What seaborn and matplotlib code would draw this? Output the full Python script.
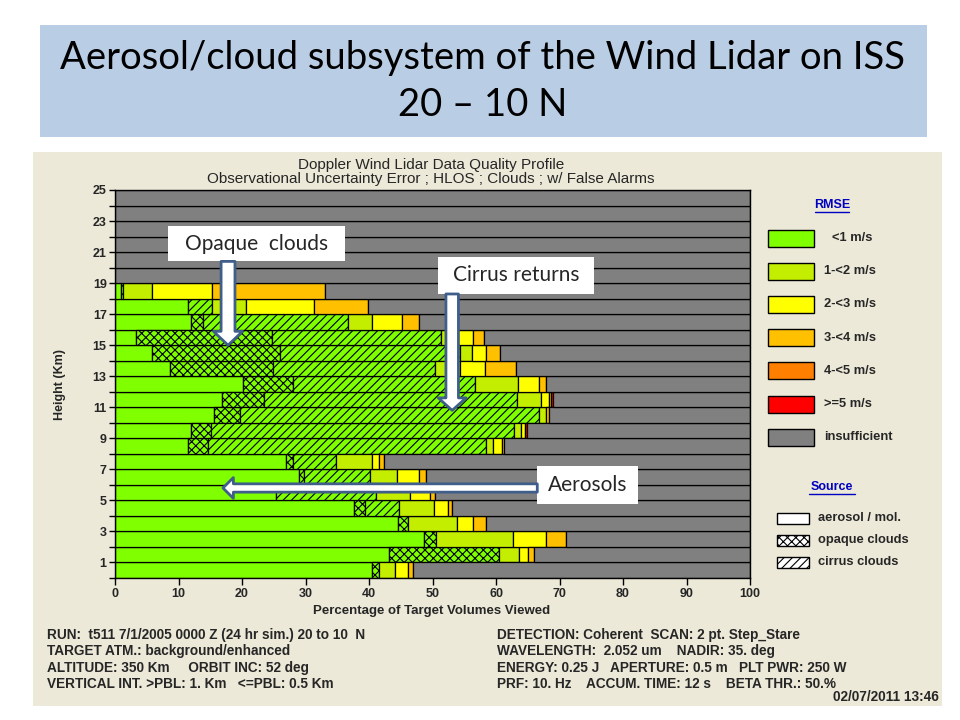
import numpy as np
import matplotlib.pyplot as plt
import seaborn as sns
from matplotlib.patches import Rectangle, FancyArrowPatch

sns.set_style("ticks")
plt.rcParams['font.family'] = ['Liberation Sans', 'DejaVu Sans']
plt.rcParams['hatch.linewidth'] = 0.8

# =========================
# Data (rows of 1 km, from 0-1 km up to 18-19 km), widths in %
# =========================
row_bottom = list(range(19))
green_aer = [40.4, 43.2, 48.6, 44.5, 37.7, 25.3, 28.9, 26.9, 11.5, 11.9,
             15.6, 16.9, 20.1, 8.6, 5.9, 3.3, 11.9, 11.5, 0.9]
green_opq = [1.1, 17.2, 1.9, 1.7, 1.7, 0.0, 0.9, 1.1, 3.1, 3.2,
             4.1, 6.6, 8.0, 16.3, 20.1, 21.4, 2.0, 0.0, 0.0]
green_cir = [0.0, 0.0, 0.0, 0.0, 5.3, 15.8, 10.3, 6.8, 43.8, 47.8,
             47.1, 39.8, 28.6, 25.5, 28.3, 26.7, 22.8, 3.7, 0.4]
rmse_1_2 = [2.6, 3.3, 12.1, 7.6, 5.6, 5.4, 4.3, 5.7, 1.1, 1.1,
            1.1, 3.8, 6.8, 3.9, 1.9, 2.4, 3.7, 5.5, 4.6]
rmse_2_3 = [2.0, 1.4, 5.2, 2.6, 2.1, 3.1, 3.4, 1.1, 1.4, 0.5,
            0.0, 1.3, 3.2, 3.9, 2.2, 2.5, 4.8, 10.7, 9.3]
rmse_3_4 = [0.9, 0.9, 3.2, 2.0, 0.7, 0.8, 1.1, 0.7, 0.4, 0.0,
            0.5, 0.3, 1.2, 4.9, 2.2, 1.8, 2.6, 8.5, 17.9]
rmse_4_5 = [0.0] * 19
rmse_5 = [0.0, 0.0, 0.0, 0.0, 0.0, 0.0, 0.0, 0.0, 0.0, 0.4,
          0.0, 0.3, 0.0, 0.0, 0.0, 0.0, 0.0, 0.0, 0.0]
all_rows = list(range(25))

rmse_labels = ["<1 m/s", "1-<2 m/s", "2-<3 m/s", "3-<4 m/s", "4-<5 m/s", ">=5 m/s", "insufficient"]
rmse_colors = ["#80FF00", "#C4EE00", "#FFFF00", "#FFC000", "#FF8000", "#FF0000", "#808080"]
source_labels = ["aerosol / mol.", "opaque clouds", "cirrus clouds"]
source_hatch = ["", "xxxx", "////"]

left_lines = ["RUN:  t511 7/1/2005 0000 Z (24 hr sim.) 20 to 10  N",
              "TARGET ATM.: background/enhanced",
              "ALTITUDE: 350 Km     ORBIT INC: 52 deg",
              "VERTICAL INT. >PBL: 1. Km   <=PBL: 0.5 Km"]
right_lines = ["DETECTION: Coherent  SCAN: 2 pt. Step_Stare",
               "WAVELENGTH:  2.052 um    NADIR: 35. deg",
               "ENERGY: 0.25 J   APERTURE: 0.5 m   PLT PWR: 250 W",
               "PRF: 10. Hz    ACCUM. TIME: 12 s    BETA THR.: 50.%"]

# =========================
# Figure and background
# =========================
fig = plt.figure(figsize=(9.6, 7.2), dpi=100)
bg = fig.add_axes([0, 0, 1, 1], zorder=-1)
bg.set_xlim(0, 960)
bg.set_ylim(720, 0)
bg.axis('off')
bg.add_patch(Rectangle((40, 25), 887, 112, fc="#B9CDE5", ec='none'))
bg.add_patch(Rectangle((33, 152), 909, 554, fc="#ECE9D8", ec='none'))
bg.text(483, 58, "Aerosol/cloud subsystem of the Wind Lidar on ISS", ha='center', va='center',
        fontsize=27.5, family=['Lato', 'DejaVu Sans'], color='black')
bg.text(483, 105, "20 \u2013 10 N", ha='center', va='center', fontsize=27.5,
        family=['Lato', 'DejaVu Sans'], color='black')
bg.text(431, 165, "Doppler Wind Lidar Data Quality Profile", ha='center', va='center', fontsize=11)
bg.text(431, 179, "Observational Uncertainty Error ; HLOS ; Clouds ; w/ False Alarms", ha='center',
        va='center', fontsize=11)
bg.text(60, 384, "Height (Km)", rotation=90, ha='center', va='center', fontsize=9, fontweight='bold')
bg.text(432, 611, "Percentage of Target Volumes Viewed", ha='center', va='center', fontsize=9.5,
        fontweight='bold')

for i, line in enumerate(left_lines):
    bg.text(47, 635 + i * 16.3, line, ha='left', va='center', fontsize=9.8, fontweight='bold')
for i, line in enumerate(right_lines):
    bg.text(497, 635 + i * 16.3, line, ha='left', va='center', fontsize=9.8, fontweight='bold')
bg.text(939, 697, "02/07/2011 13:46", ha='right', va='center', fontsize=9.8, fontweight='bold')

# legend
bg.text(832, 205, "RMSE", ha='center', va='center', fontsize=9, fontweight='bold', color='#0000C0')
bg.plot([815, 849], [211.5, 211.5], color='#0000C0', lw=1)
for i, (lab, col) in enumerate(zip(rmse_labels, rmse_colors)):
    yc = 238 + i * 33.2
    bg.add_patch(Rectangle((768, yc - 8.5), 46, 17, fc=col, ec='black', lw=1))
    bg.text(832 if i == 0 else 824, yc, lab, ha='left', va='center', fontsize=9.3, fontweight='bold')
bg.text(832, 487, "Source", ha='center', va='center', fontsize=9, fontweight='bold', color='#0000C0')
bg.plot([809, 855], [493.5, 493.5], color='#0000C0', lw=1)
for i, (lab, h) in enumerate(zip(source_labels, source_hatch)):
    yc = 518 + i * 22
    bg.add_patch(Rectangle((777, yc - 5.5), 32, 11, fc='white', ec='black', lw=1, hatch=h))
    bg.text(818, yc, lab, ha='left', va='center', fontsize=9.3, fontweight='bold')

# =========================
# Chart
# =========================
ax = fig.add_axes([115 / 960, 1 - 578 / 720, 635 / 960, 388 / 720])
ax.set_facecolor("#808080")

segments = [(green_aer, rmse_colors[0], ""), (green_opq, rmse_colors[0], "xxxx"),
            (green_cir, rmse_colors[0], "////"), (rmse_1_2, rmse_colors[1], ""),
            (rmse_2_3, rmse_colors[2], ""), (rmse_3_4, rmse_colors[3], ""),
            (rmse_4_5, rmse_colors[4], ""), (rmse_5, rmse_colors[5], "")]
left = np.zeros(len(row_bottom))
for vals, col, h in segments:
    vals = np.array(vals)
    keep = vals > 0
    ax.barh(np.array(row_bottom)[keep], vals[keep], left=left[keep], height=1, align='edge',
            color=col, hatch=h, edgecolor='black', linewidth=0.9)
    left += vals

total = np.zeros(len(all_rows))
total[:len(row_bottom)] = left
ax.barh(all_rows, 100 - total, left=total, height=1, align='edge',
        color=rmse_colors[6], edgecolor='black', linewidth=0.9)

ax.set_xlim(0, 100)
ax.set_ylim(0, 25)
ax.set_xticks(range(0, 101, 10))
ax.set_yticks(range(1, 26, 2))
ax.set_yticks(range(0, 25, 2), minor=True)
ax.tick_params(axis='y', which='both', direction='out', length=4, width=1, color='black',
               labelsize=9, pad=2)
ax.tick_params(axis='x', direction='out', length=5, width=1, color='black', labelsize=9, pad=2)
for lab in ax.get_xticklabels() + ax.get_yticklabels():
    lab.set_fontweight('bold')
for sp in ax.spines.values():
    sp.set_color('black')
    sp.set_linewidth(1)

# annotations
arrow_ec = "#3F5F8A"
def callout(x0, y0, x1, y1, text):
    ax.add_patch(Rectangle((x0, y0), x1 - x0, y1 - y0, fc='white', ec='none', zorder=10, clip_on=False))
    ax.text((x0 + x1) / 2, (y0 + y1) / 2, text, ha='center', va='center', fontsize=15,
            family=['Lato', 'DejaVu Sans'], zorder=11, clip_on=False)

def arrow(pa, pb, tail, hw, hl):
    ax.add_patch(FancyArrowPatch(pa, pb, arrowstyle=f"simple,head_length={hl},head_width={hw},tail_width={tail}",
                                 mutation_scale=1, fc='white', ec=arrow_ec, lw=2, shrinkA=0, shrinkB=0,
                                 zorder=12, clip_on=False))

callout(8.3, 20.4, 36.2, 22.7, "Opaque  clouds")
arrow((17.8, 20.4), (17.8, 15.0), 10, 21, 10)
callout(50.9, 18.3, 75.4, 20.7, "Cirrus returns")
arrow((53.1, 18.3), (53.1, 10.8), 9, 20, 9)
callout(66.5, 4.8, 82.4, 7.2, "Aerosols")
arrow((66.5, 5.8), (17.0, 5.8), 6, 15, 7.5)

plt.savefig("out.png", dpi=100)
